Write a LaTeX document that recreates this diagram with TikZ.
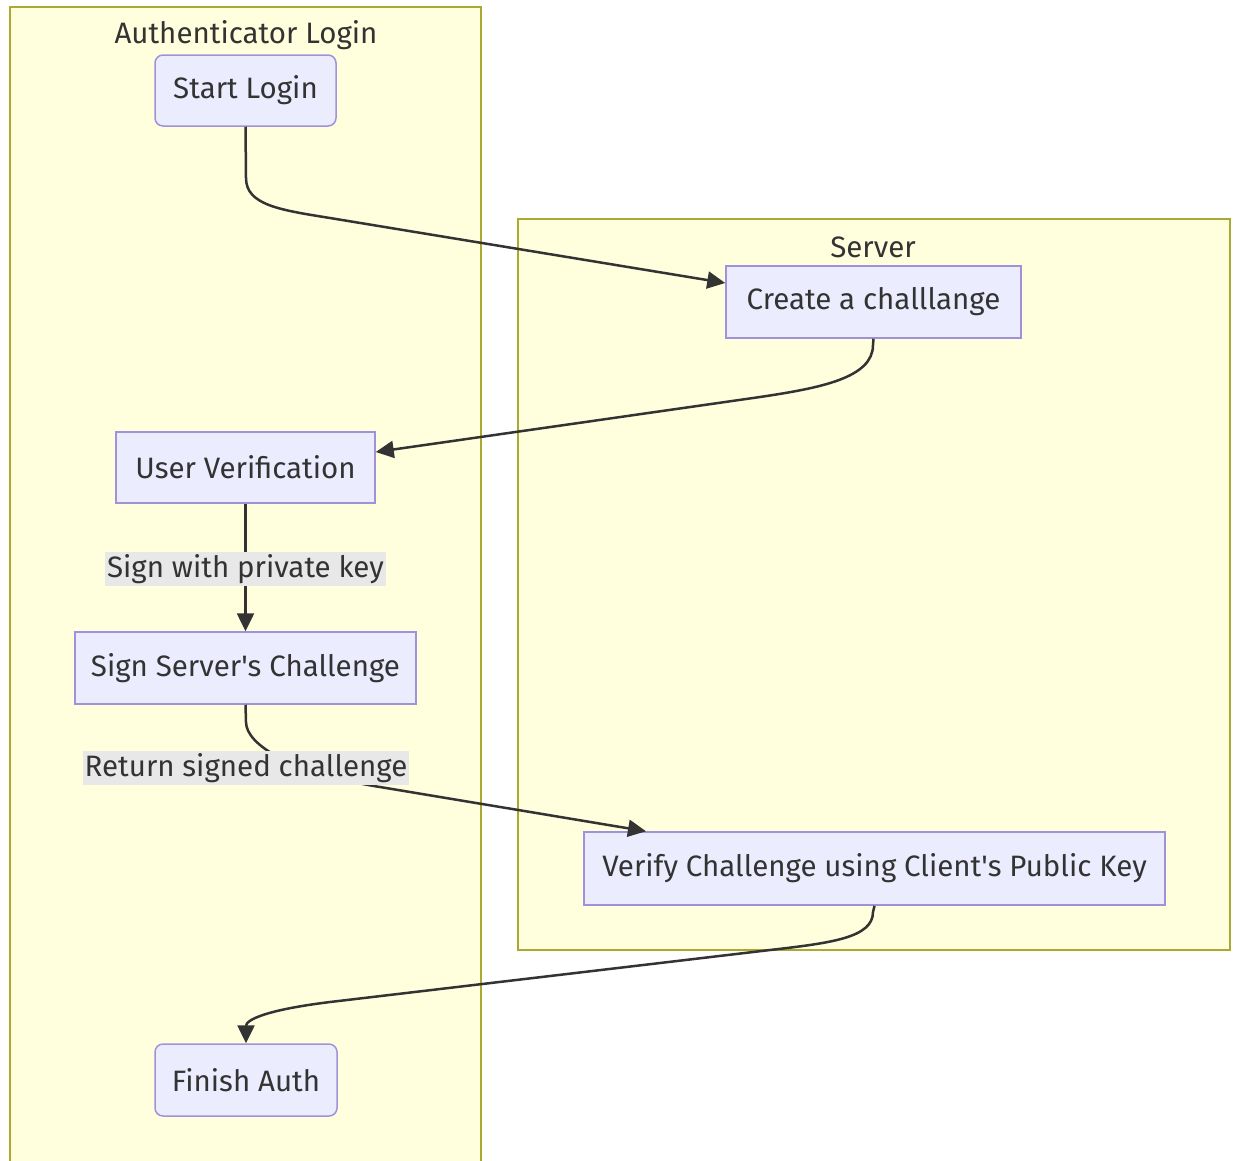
\documentclass[tikz,border=0pt]{standalone}
\usepackage{fontspec}
\setmainfont{Fira Sans}
\usetikzlibrary{arrows.meta}
\definecolor{clfill}{HTML}{FFFFDE}
\definecolor{cldraw}{HTML}{AAAA33}
\definecolor{ndfill}{HTML}{ECECFF}
\definecolor{nddraw}{HTML}{A092DA}
\definecolor{txt}{HTML}{333333}
\definecolor{lblbg}{HTML}{E8E8E8}
\tikzset{
  cluster/.style={draw=cldraw, fill=clfill, line width=1.3pt},
  box/.style={draw=nddraw, fill=ndfill, line width=1.5pt, inner sep=0pt, text=txt},
  rbox/.style={box, rounded corners=8pt},
  edge/.style={draw=txt, line width=2.5pt, -{Triangle[length=18pt,width=17pt]}},
  elabel/.style={fill=lblbg, inner sep=2pt, text=txt},
  ctitle/.style={text=txt}
}
\begin{document}
\begin{tikzpicture}[x=1pt,y=-1pt, font=\fontsize{29.5}{34}\selectfont]
\clip (0,0) rectangle (1233,1160);
\fill[white] (0,0) rectangle (1233,1160);
% clusters
\draw[cluster] (10,7) rectangle (481,1175);
\draw[cluster] (518,219) rectangle (1230,950);
\node[ctitle] (authT) at (246,35) {Authenticator Login};
\node[ctitle] (serverT) at (873,247) {Server};
% nodes
\node[rbox, minimum width=181pt, minimum height=71pt] (start) at (245.5,90.5) {Start Login};
\node[box, minimum width=295pt, minimum height=72pt] (create) at (873.5,302) {Create a challlange};
\node[box, minimum width=259pt, minimum height=71pt] (uv) at (245.5,467.5) {User Verification};
\node[box, minimum width=341pt, minimum height=72pt] (sign) at (245.5,668) {Sign Server\textquotesingle s Challenge};
\node[box, minimum width=581pt, minimum height=73pt] (verify) at (874.5,868.5) {Verify Challenge using Client\textquotesingle s Public Key};
\node[rbox, minimum width=182pt, minimum height=72pt] (finish) at (246,1080) {Finish Auth};
% edges
\draw[edge] (start.south) -- (246,178) .. controls (246,205) and (280,210) .. (330,218) -- ([yshift=19pt]create.west);
\draw[edge] (create.south) -- (873,345) .. controls (873,378) and (820,388) .. (760,397) -- ([yshift=15.5pt]uv.east);
\draw[edge] (uv.south) -- (sign.north) node[midway, elabel, yshift=-1.5pt] (lbl1) {Sign with private key};
\draw[edge] (sign.south) -- (246,722) .. controls (246,745) and (292,773) .. (380,787) -- ([xshift=-228.5pt]verify.north);
\node[elabel] (lbl2) at (246,768) {Return signed challenge};
\draw[edge] (verify.south) -- (873,912) .. controls (873,938) and (830,943) .. (770,950) -- (330,1002) .. controls (265,1010) and (246,1020) .. (finish.north);
\end{tikzpicture}
\end{document}
